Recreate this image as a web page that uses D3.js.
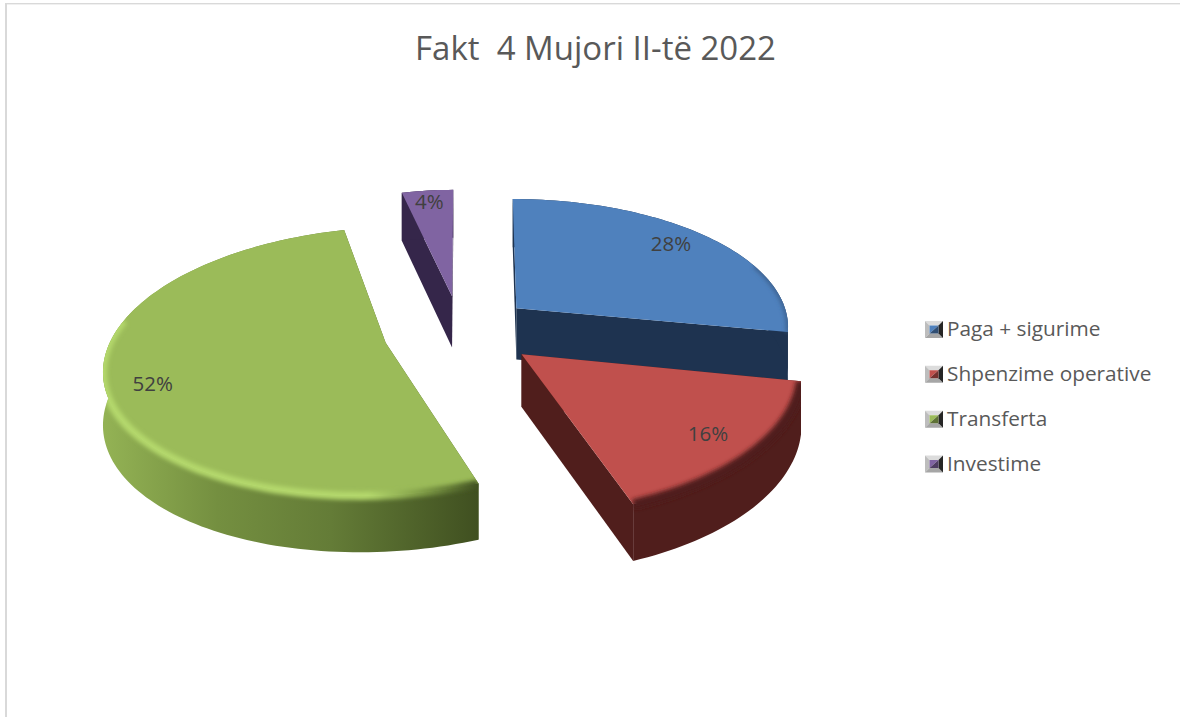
<!DOCTYPE html>
<html><head><meta charset="utf-8">
<script src="https://cdnjs.cloudflare.com/ajax/libs/d3/7.8.5/d3.min.js"></script>
<style>html,body{margin:0;padding:0;background:#fff}svg{display:block}</style>
</head><body><svg id="c" width="1180" height="717"></svg>
<script>
const titleText = "Fakt  4 Mujori II-të 2022";
const categories = ["Paga + sigurime","Shpenzime operative","Transferta","Investime"];
const values = [28,16,52,4];
const topColors = ["#4f81bd","#c0504d","#9bbb59","#8064a2"];
const wallColors = ["#1e3350","#501e1c","url(#gw)","#35264a"];
const offsets = [[0.113,-0.16],[0.126,0.17],[-0.36,0.09],[-0.128,-0.25]];
const shapes = [[1,0.93,0],[0.985,0.95,-0.04],[0.99,0.92,-0.03],[0.88,0.93,0.012]];
const labelNudge = [[-2,-4],[0,0],[-4,6],[-2,-6]];
const drawOrder = [3,2,0,1];

const svg = d3.select("#c");
const VX=486, VY=330, A=275, B=139.6, P=0.1486, D=52;
const proj=(X,Y)=>{const w=1-P*Y;return [VX+A*X/w,VY+B*Y/w];};
const down=(X,Y)=>{const p=proj(X,Y);return [p[0],p[1]+D/Math.sqrt(1-P*Y)];};
const line=d3.line();
const pie=d3.pie().sort(null).value(d=>d)(values);
const local=(i,t,r=1)=>{const [ox,oy]=offsets[i],[rx,ry,s]=shapes[i];
 const c=-Math.cos(t);return [ox+r*(rx*Math.sin(t)+s*c),oy+r*ry*c];};

svg.append("rect").attr("x",5).attr("y",3).attr("width",2).attr("height",714).attr("fill","#d9d9d9");
svg.append("rect").attr("x",5).attr("y",3).attr("width",1175).attr("height",1.4).attr("fill","#d9d9d9");

const defs=svg.append("defs");
const gw=defs.append("linearGradient").attr("id","gw").attr("gradientUnits","userSpaceOnUse")
 .attr("x1",105).attr("x2",481).attr("y1",0).attr("y2",0);
[[0,"#93b254"],[0.3,"#748f40"],[0.6,"#647c37"],[1,"#3f4f20"]].forEach(s=>gw.append("stop").attr("offset",s[0]).attr("stop-color",s[1]));
const gb=defs.append("linearGradient").attr("id","gb").attr("gradientUnits","userSpaceOnUse")
 .attr("x1",105).attr("x2",481).attr("y1",0).attr("y2",0);
[[0,"#b4d86c"],[0.7,"#b4d86c"],[0.85,"#7d9a45"],[1,"#3f4f20"]].forEach(s=>gb.append("stop").attr("offset",s[0]).attr("stop-color",s[1]));
const bl=defs.append("filter").attr("id","bl").attr("x","-20%").attr("y","-20%").attr("width","140%").attr("height","140%");
bl.append("feGaussianBlur").attr("stdDeviation",2);

const bevel=[
 {color:"#3a5f8c",w:4,from:1.2,to:9},
 {color:"#4f1d1b",w:10,from:0,to:9},
 {color:"url(#gb)",w:8,from:0,to:4.9},
 null];

drawOrder.forEach(i=>{
 const a=pie[i];
 const n=Math.max(8,Math.round((a.endAngle-a.startAngle)*40));
 const ts=d3.range(n+1).map(k=>a.startAngle+(a.endAngle-a.startAngle)*k/n);
 const arc=ts.map(t=>local(i,t));
 const apex=offsets[i];
 const g=svg.append("g");
 [[apex,arc[0]],[apex,arc[n]]].forEach(e=>{
  const fill=i===2?"#4f6328":wallColors[i];
  g.append("path").attr("fill",fill).attr("d",
   line([proj(...e[0]),proj(...e[1]),down(...e[1]),down(...e[0])])+"Z");
 });
 const wallD=line(arc.map(p=>proj(...p)).concat(arc.slice().reverse().map(p=>down(...p))))+"Z";
 g.append("path").attr("fill",wallColors[i]).attr("d",wallD);
 const topD=line([apex,...arc].map(p=>proj(...p)))+"Z";
 g.append("path").attr("fill",topColors[i]).attr("d",topD);
 if(bevel[i]){
  const cid="clip"+i;
  const cp=defs.append("clipPath").attr("id",cid);
  cp.append("path").attr("d",topD);
  cp.append("path").attr("d",wallD);
  const part=ts.filter(t=>t>=bevel[i].from&&t<=bevel[i].to).map(t=>proj(...local(i,t)));
  g.append("g").attr("clip-path",`url(#${cid})`).append("path")
   .attr("d",line(part)).attr("fill","none")
   .attr("stroke",bevel[i].color).attr("stroke-width",bevel[i].w).attr("filter","url(#bl)");
 }
});

const labelR=0.82;
pie.forEach((a,i)=>{
 const t=(a.startAngle+a.endAngle)/2;
 const p=proj(...local(i,t,labelR));
 svg.append("text").attr("x",p[0]+labelNudge[i][0]).attr("y",p[1]+labelNudge[i][1]).attr("text-anchor","middle").attr("dy","0.36em")
  .attr("font-family","'Open Sans'").attr("font-size",20.5).attr("fill","#404040").text(values[i]+"%");
});

svg.append("text").attr("x",595.5).attr("y",60).attr("text-anchor","middle")
 .attr("font-family","'Open Sans'").attr("font-size",33).attr("fill","#595959")
 .style("white-space","pre").text(titleText);

const legendY=d3.scalePoint().domain(categories).range([329.5,464]);
categories.forEach((c,i)=>{
 const y=legendY(c),x0=925,x1=943,y0=y-8.5,y1=y+8.5,d=4.5;
 const k=svg.append("g");
 const poly=(pts,f)=>k.append("polygon").attr("points",pts.map(p=>p.join(",")).join(" ")).attr("fill",f);
 poly([[x0,y0],[x1,y0],[x1-d,y0+d],[x0+d,y0+d]],"#dcdcdc");
 poly([[x0,y0],[x0+d,y0+d],[x0+d,y1-d],[x0,y1]],"#bdbdbd");
 poly([[x0,y1],[x0+d,y1-d],[x1-d,y1-d],[x1,y1]],"#a6a6a6");
 poly([[x1,y0],[x1,y1],[x1-d,y1-d],[x1-d,y0+d]],"#262626");
 poly([[x0+d,y0+d],[x1-d,y0+d],[x0+d,y1-d]],topColors[i]);
 poly([[x1-d,y0+d],[x1-d,y1-d],[x0+d,y1-d]],d3.color(topColors[i]).darker(1.4).formatHex());
 svg.append("text").attr("x",947).attr("y",y-0.5).attr("dy","0.35em")
  .attr("font-family","'Open Sans'").attr("font-size",20.8).attr("fill","#595959").text(c);
});
</script></body></html>
